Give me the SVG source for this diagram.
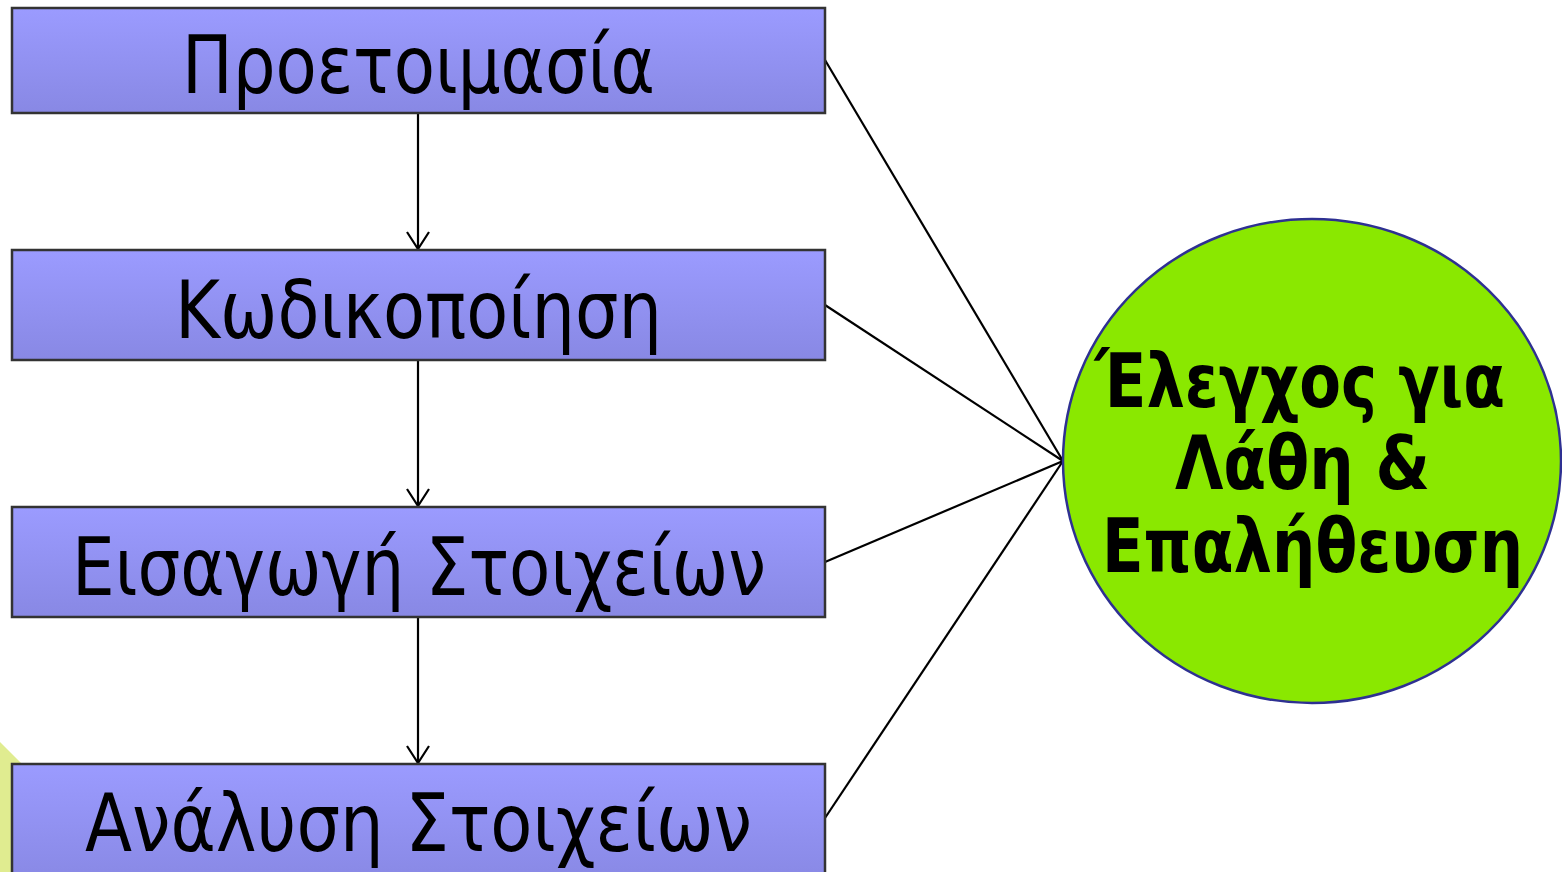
<svg xmlns="http://www.w3.org/2000/svg" width="1562" height="872" viewBox="0 0 1562 872">
<defs>
<linearGradient id="boxg" x1="0" y1="0" x2="0" y2="1">
<stop offset="0" stop-color="#9b9bff"/>
<stop offset="1" stop-color="#8888e4"/>
</linearGradient>
<marker id="arr" markerWidth="24" markerHeight="26" refX="20" refY="12" orient="auto" markerUnits="userSpaceOnUse" viewBox="0 0 24 24">
<path d="M3,1 L20,12 L3,23" fill="none" stroke="#000" stroke-width="2.2"/>
</marker>
<style>
.box{fill:url(#boxg);stroke:#333;stroke-width:2.5}
.lbl{font-family:"DejaVu Sans",Verdana,sans-serif;font-size:80px;fill:#000}
.clbl{font-family:"DejaVu Sans",Verdana,sans-serif;font-weight:bold;font-size:74px;fill:#000}
.con{stroke:#000;stroke-width:2.2;fill:none}
</style>
</defs>
<rect width="1562" height="872" fill="#fff"/>
<polygon points="0,742 23,765 23,872 0,872" fill="#e0ec90"/>
<g id="connectors">
<line class="con" x1="418" y1="113" x2="418" y2="249" marker-end="url(#arr)"/>
<line class="con" x1="418" y1="360" x2="418" y2="506" marker-end="url(#arr)"/>
<line class="con" x1="418" y1="617" x2="418" y2="763" marker-end="url(#arr)"/>
<line class="con" x1="825" y1="60" x2="1063" y2="461"/>
<line class="con" x1="825" y1="305" x2="1063" y2="461"/>
<line class="con" x1="825" y1="562" x2="1063" y2="461"/>
<line class="con" x1="825" y1="818" x2="1063" y2="461"/>
</g>
<g id="n1"><rect class="box" x="12" y="8" width="813" height="105"/><text class="lbl" x="182" y="93" textLength="473" lengthAdjust="spacingAndGlyphs">Προετοιμασία</text></g>
<g id="n2"><rect class="box" x="12" y="250" width="813" height="110"/><text class="lbl" x="175" y="338" textLength="487" lengthAdjust="spacingAndGlyphs">Κωδικοποίηση</text></g>
<g id="n3"><rect class="box" x="12" y="507" width="813" height="110"/><text class="lbl" x="72" y="595" textLength="694" lengthAdjust="spacingAndGlyphs">Εισαγωγή Στοιχείων</text></g>
<g id="n4"><rect class="box" x="12" y="764" width="813" height="120"/><text class="lbl" x="85" y="851" textLength="667" lengthAdjust="spacingAndGlyphs">Ανάλυση Στοιχείων</text></g>
<g id="n5"><ellipse cx="1312" cy="461" rx="249" ry="242" fill="#8ae800" stroke="#2e3092" stroke-width="2.5"/>
<text class="clbl" x="1095" y="407" textLength="410" lengthAdjust="spacingAndGlyphs">Έλεγχος για</text>
<text class="clbl" x="1175" y="489" textLength="255" lengthAdjust="spacingAndGlyphs">Λάθη &amp;</text>
<text class="clbl" x="1102" y="572" textLength="421" lengthAdjust="spacingAndGlyphs">Επαλήθευση</text></g>
</svg>
